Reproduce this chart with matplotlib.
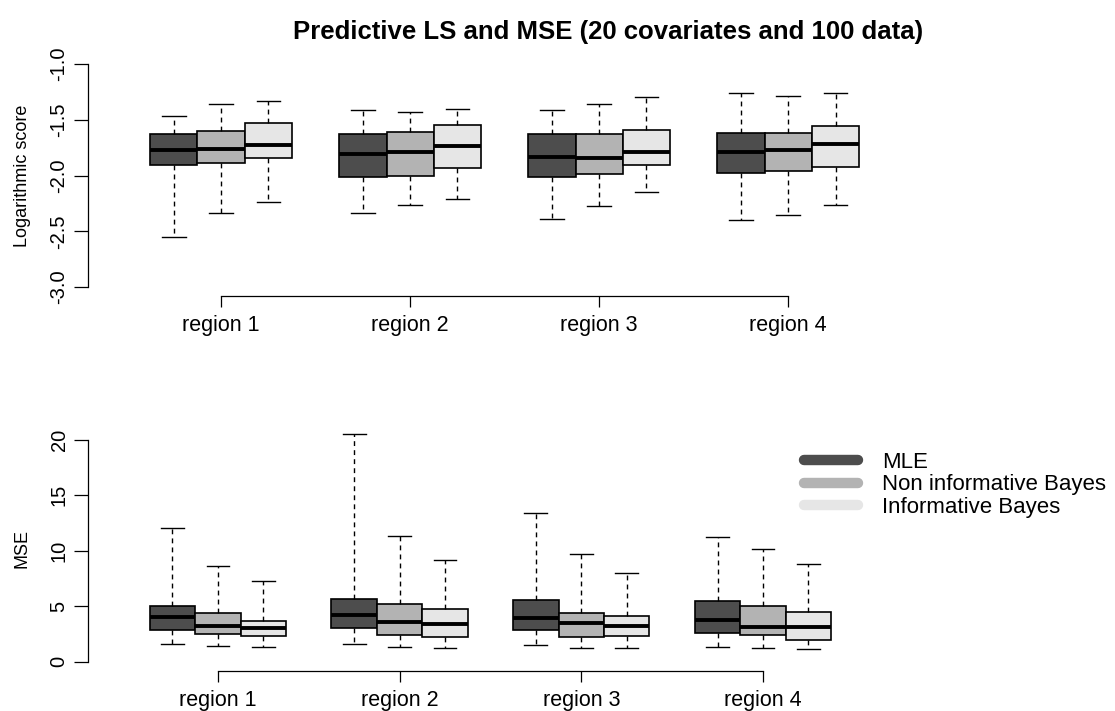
import numpy as np
import matplotlib
matplotlib.use('Agg')
from matplotlib import pyplot as plt
from matplotlib.lines import Line2D

plt.rcParams['font.family'] = ['Liberation Sans', 'DejaVu Sans']
plt.rcParams['axes.unicode_minus'] = False

regions = ['region 1', 'region 2', 'region 3', 'region 4']
methods = ['MLE', 'Non informative Bayes', 'Informative Bayes']
colors = ['#4d4d4d', '#b3b3b3', '#e6e6e6']

# rows: region 1..4, columns: MLE, non informative, informative
ls_whislo = [[-2.55, -2.34, -2.24], [-2.34, -2.26, -2.21], [-2.39, -2.27, -2.15], [-2.40, -2.35, -2.26]]
ls_q1 = [[-1.91, -1.89, -1.84], [-2.01, -2.00, -1.93], [-2.01, -1.99, -1.91], [-1.98, -1.96, -1.92]]
ls_med = [[-1.77, -1.76, -1.73], [-1.81, -1.79, -1.74], [-1.83, -1.84, -1.79], [-1.79, -1.77, -1.72]]
ls_q3 = [[-1.63, -1.60, -1.53], [-1.63, -1.61, -1.55], [-1.63, -1.63, -1.59], [-1.62, -1.62, -1.56]]
ls_whishi = [[-1.47, -1.36, -1.33], [-1.41, -1.43, -1.40], [-1.41, -1.36, -1.30], [-1.26, -1.29, -1.26]]

mse_whislo = [[1.65, 1.44, 1.38], [1.62, 1.38, 1.23], [1.50, 1.26, 1.23], [1.38, 1.29, 1.17]]
mse_q1 = [[2.87, 2.52, 2.37], [3.02, 2.39, 2.21], [2.84, 2.22, 2.31], [2.63, 2.40, 1.95]]
mse_med = [[4.01, 3.26, 3.05], [4.25, 3.56, 3.38], [3.98, 3.47, 3.23], [3.80, 3.12, 3.12]]
mse_q3 = [[5.06, 4.43, 3.71], [5.69, 5.18, 4.79], [5.57, 4.43, 4.16], [5.51, 5.00, 4.52]]
mse_whishi = [[12.07, 8.65, 7.31], [20.51, 11.35, 9.19], [13.39, 9.73, 8.02], [11.26, 10.15, 8.80]]

W, H = 1115, 711
fig = plt.figure(figsize=(W / 100, H / 100), dpi=100)


def px_axes(left, top, right, bottom):
    return fig.add_axes([left / W, 1 - bottom / H, (right - left) / W, (bottom - top) / H])


def draw_panel(ax, whislo, q1, med, q3, whishi):
    for j in range(3):
        stats = [dict(whislo=whislo[i][j], q1=q1[i][j], med=med[i][j], q3=q3[i][j],
                      whishi=whishi[i][j], fliers=[]) for i in range(len(regions))]
        pos = np.arange(1, len(regions) + 1) + (j - 1) * 0.25
        ax.bxp(stats, positions=pos, widths=0.25, capwidths=0.125, patch_artist=True,
               boxprops=dict(facecolor=colors[j], edgecolor='black', linewidth=1.2),
               medianprops=dict(color='black', linewidth=2.8, solid_capstyle='butt'),
               whiskerprops=dict(color='black', linewidth=1.0, linestyle=(0, (3.5, 3))),
               capprops=dict(color='black', linewidth=1.0),
               manage_ticks=False)
    for s in ['top', 'right']:
        ax.spines[s].set_visible(False)
    for s in ['left', 'bottom']:
        ax.spines[s].set_linewidth(0.9)
    ax.spines['bottom'].set_bounds(1, len(regions))
    ax.set_xticks(np.arange(1, len(regions) + 1))
    ax.set_xticklabels(regions, fontsize=15.5)
    ax.tick_params(axis='x', length=8, width=0.9, pad=6)
    ax.tick_params(axis='y', length=10, width=0.9, pad=4, labelsize=14.5, labelrotation=90)
    for lab in ax.get_yticklabels():
        lab.set_va('center')


# top panel: logarithmic score
ax1 = px_axes(88, 55, 1070, 296)
draw_panel(ax1, ls_whislo, ls_q1, ls_med, ls_q3, ls_whishi)
ax1.set_xlim(0.296, 5.49)
ax1.set_ylim(-3.08, -0.92)
ax1.spines['left'].set_bounds(-3, -1)
ax1.set_yticks(np.arange(-3, -0.99, 0.5))
ax1.set_ylabel('Logarithmic score', fontsize=13)
ax1.yaxis.set_label_coords((31 - 88) / 982, 0.5)

# bottom panel: MSE
ax2 = px_axes(88, 425, 1070, 671)
draw_panel(ax2, mse_whislo, mse_q1, mse_med, mse_q3, mse_whishi)
ax2.set_xlim(0.285, 5.69)
ax2.set_ylim(-0.82, 21.32)
ax2.spines['left'].set_bounds(0, 20)
ax2.set_yticks([0, 5, 10, 15, 20])
ax2.set_ylabel('MSE', fontsize=13)
ax2.yaxis.set_label_coords((31 - 88) / 982, 0.5)

handles = [Line2D([], [], color=c, linewidth=7.5, solid_capstyle='round') for c in colors]
ax2.legend(handles, methods, loc='upper left', bbox_to_anchor=(804 / W, 1 - 452 / H),
           bbox_transform=fig.transFigure, frameon=False, fontsize=16, borderpad=0,
           borderaxespad=0, handlelength=2.45, handletextpad=1.05, labelspacing=0.06)

fig.text(608 / W, 1 - 32 / H, 'Predictive LS and MSE (20 covariates and 100 data)',
         ha='center', va='center', fontsize=18.5, fontweight='bold')

plt.savefig('out.png', dpi=100)
